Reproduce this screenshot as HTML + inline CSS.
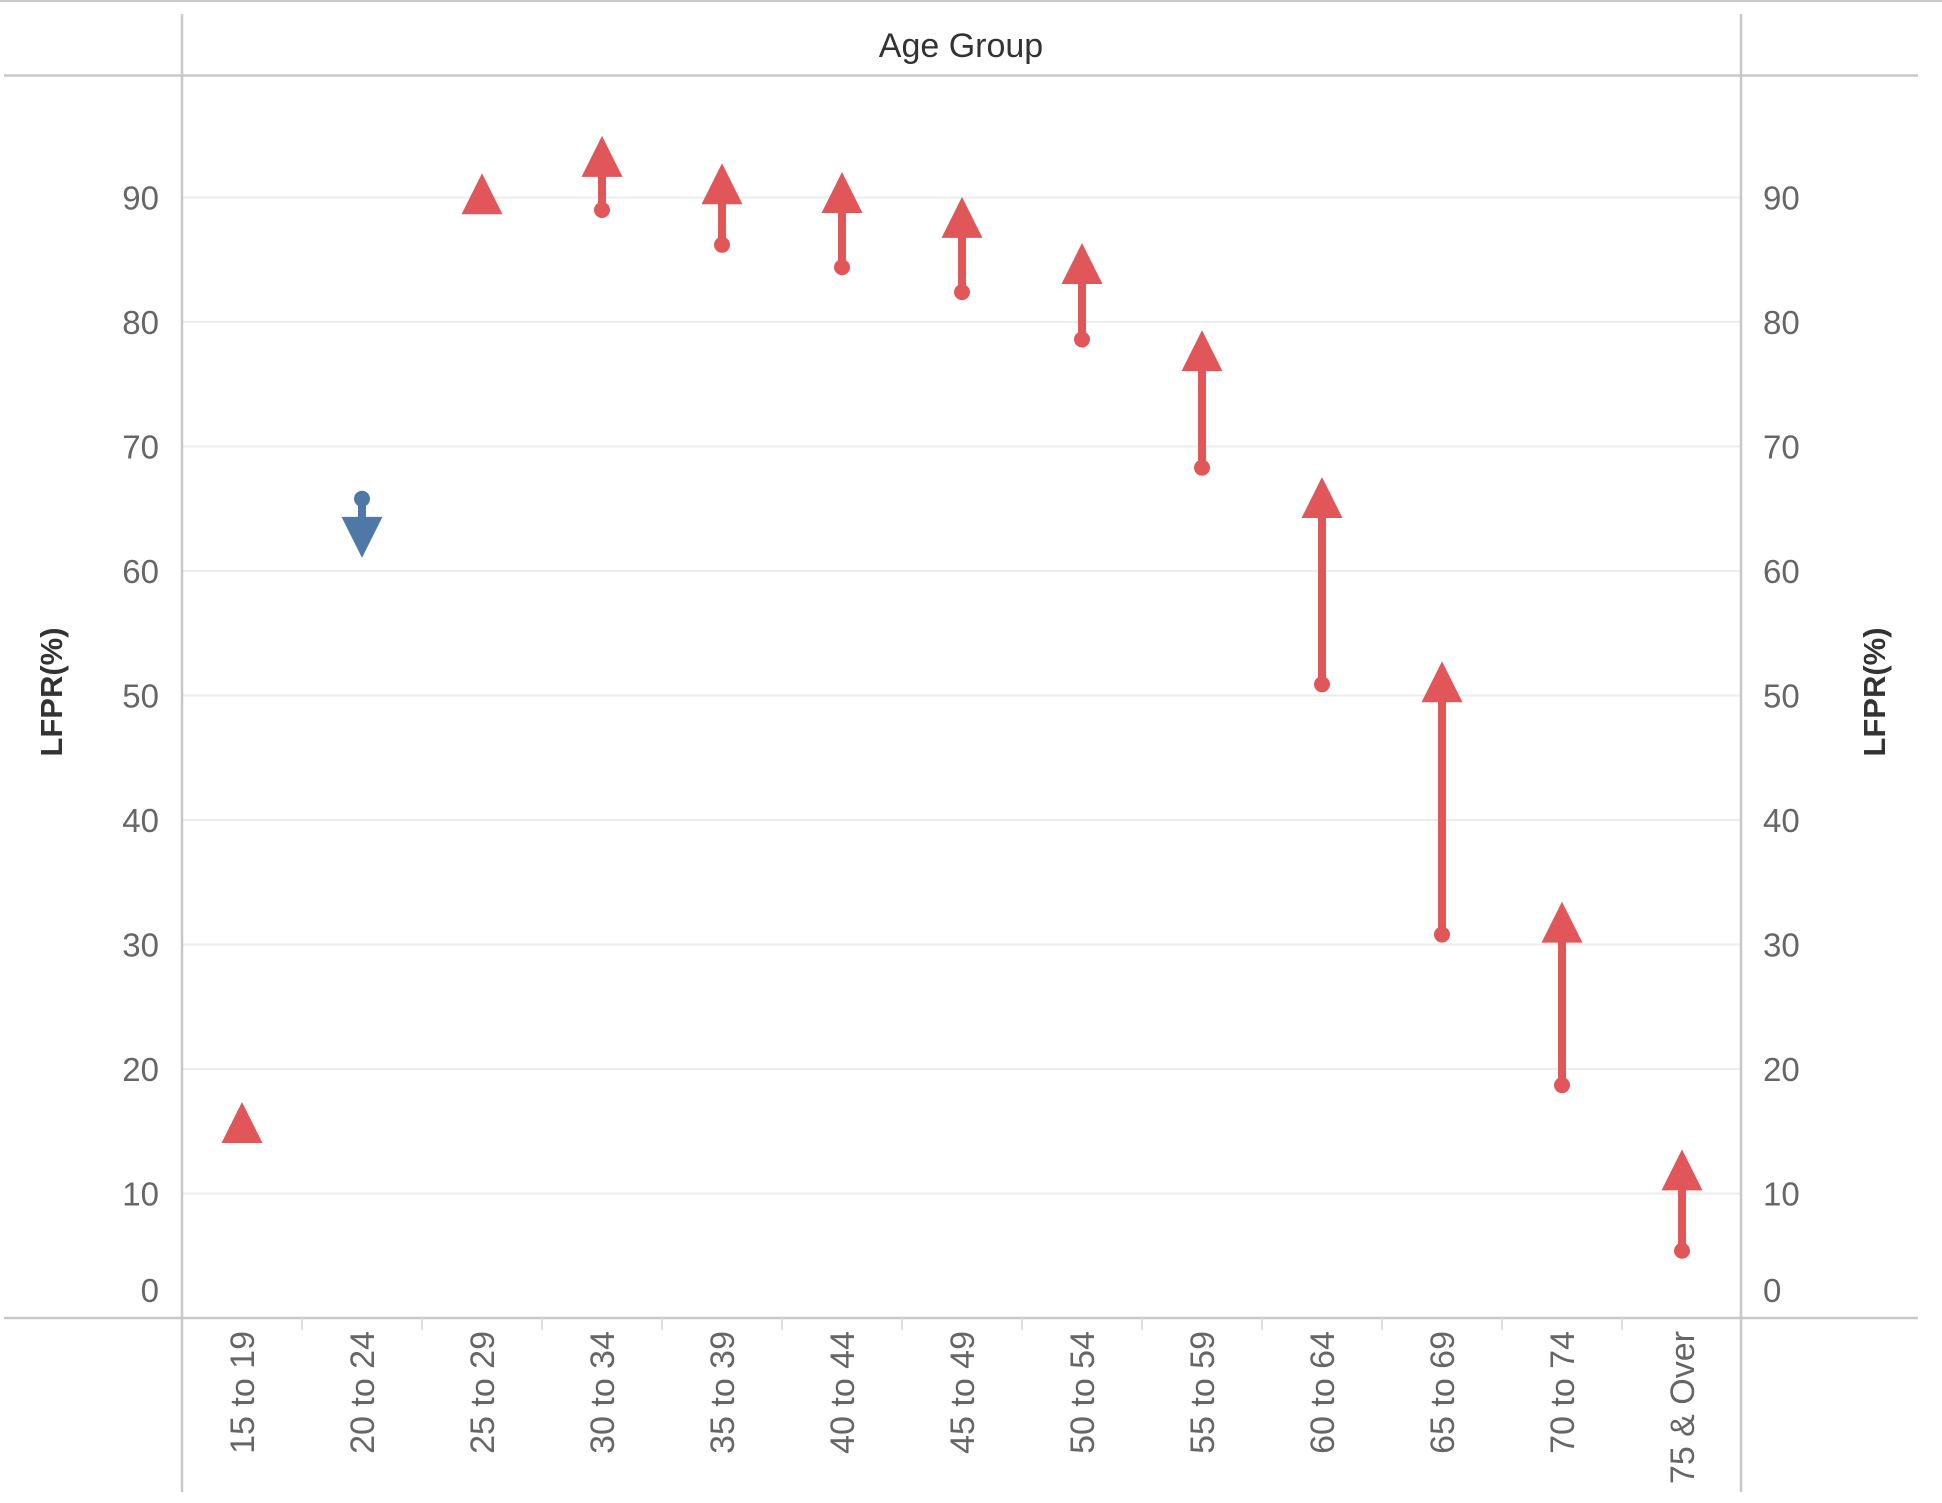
<!DOCTYPE html>
<html><head><meta charset="utf-8"><style>
html,body{margin:0;padding:0;background:#fff;}
svg{display:block;font-family:"Liberation Sans",sans-serif;}
</style></head><body>
<svg id="chart" width="1942" height="1503" viewBox="0 0 1942 1503" xmlns="http://www.w3.org/2000/svg">
<line x1="0" y1="1" x2="1942" y2="1" stroke="#c8c8c8" stroke-width="2"/>
<text x="961" y="57" text-anchor="middle" font-size="34" fill="#333">Age Group</text>
<line x1="4" y1="75.5" x2="1918" y2="75.5" stroke="#c8c8c8" stroke-width="2.5"/>
<g id="grid"></g>
<g id="leftTicks"></g>
<g id="rightTicks"></g>
<line x1="182" y1="14" x2="182" y2="1492" stroke="#c8c8c8" stroke-width="2.5"/>
<line x1="1741" y1="14" x2="1741" y2="1492" stroke="#c8c8c8" stroke-width="2.5"/>
<line x1="4" y1="1318" x2="1918" y2="1318" stroke="#c8c8c8" stroke-width="2.5"/>
<text transform="translate(62,692) rotate(-90)" text-anchor="middle" font-size="31" font-weight="bold" fill="#333">LFPR(%)</text>
<text transform="translate(1885,692) rotate(-90)" text-anchor="middle" font-size="31" font-weight="bold" fill="#333">LFPR(%)</text>
<g id="xlabels"></g>
<g id="marks"></g>
</svg>
<script>
const categories = ["15 to 19","20 to 24","25 to 29","30 to 34","35 to 39","40 to 44","45 to 49","50 to 54","55 to 59","60 to 64","65 to 69","70 to 74","75 & Over"];
const startValues = [15.5, 65.8, 89.6, 89.0, 86.2, 84.4, 82.4, 78.6, 68.3, 50.9, 30.8, 18.7, 5.4];
const endValues = [15.7, 62.7, 90.3, 93.3, 91.1, 90.4, 88.4, 84.7, 77.7, 65.9, 51.1, 31.8, 11.9];
const yTicks = [0,10,20,30,40,50,60,70,80,90];

const NS = "http://www.w3.org/2000/svg";
const x0 = 182, slot = 120.0, yBase = 1318, perUnit = 12.45;
function xPos(i){ return x0 + slot*(i+0.5); }
function yPos(v){ return yBase - v*perUnit; }
function mk(tag, attrs, parent){ const e=document.createElementNS(NS,tag); for(const k in attrs) e.setAttribute(k,attrs[k]); parent.appendChild(e); return e; }

const grid=document.getElementById('grid'), lt=document.getElementById('leftTicks'), rt=document.getElementById('rightTicks');
yTicks.forEach(t=>{
  const y=yPos(t);
  if(t>0){
    const g=mk('line',{x1:182,x2:1741,y1:y,y2:y,stroke:'#ececec','stroke-width':2},grid);
    
    
  }
  const ly = t===0 ? y-16 : y+12;
  const a=mk('text',{x:159,y:ly,'text-anchor':'end','font-size':33,fill:'#666'},lt);
  a.textContent=t;
  
  
  const b=mk('text',{x:1763,y:ly,'text-anchor':'start','font-size':33,fill:'#666'},rt);
  b.textContent=t;
  
  
});

const xl=document.getElementById('xlabels');
categories.forEach((c,i)=>{
  const x=xPos(i);
  if(i>0){
    const tk=mk('line',{x1:x0+slot*i,x2:x0+slot*i,y1:1318,y2:1330,stroke:'#ddd','stroke-width':2},xl);
    
    
  }
  const t=mk('text',{transform:`translate(${x+12},1331) rotate(-90)`,'text-anchor':'end','font-size':34,fill:'#666'},xl);
  t.textContent=c;
  
  
});

const marks=document.getElementById('marks');
categories.forEach((c,i)=>{
  const s=startValues[i], e=endValues[i];
  const up = e>=s;
  const col = up ? '#e15759' : '#4e79a7';
  const x=xPos(i), ys=yPos(s), ye=yPos(e);
  const g=mk('g',{},marks);
  
  
  const ln=mk('line',{x1:x,x2:x,y1:ys,y2:ye,stroke:col,'stroke-width':8},g);
  
  
  const d=mk('circle',{cx:x,cy:ys,r:8,fill:col},g);
  
  
  const h=20.5;
  const pts = up ? `${x},${ye-h} ${x-h},${ye+h} ${x+h},${ye+h}` : `${x},${ye+h} ${x-h},${ye-h} ${x+h},${ye-h}`;
  const tri=mk('polygon',{points:pts,fill:col},g);
  
  
});
</script>
</body></html>
